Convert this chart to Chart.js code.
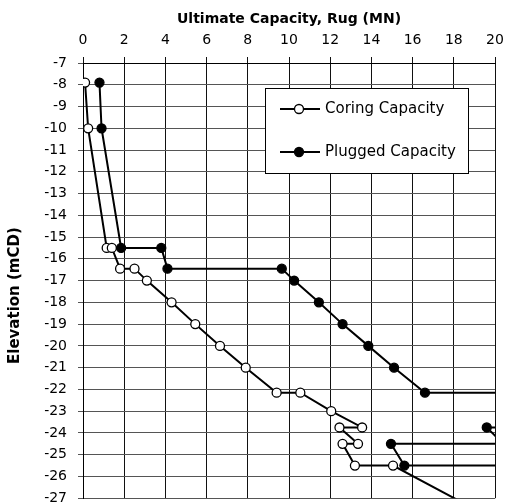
<!DOCTYPE html>
<html>
<head>
<meta charset="utf-8">
<script src="https://cdn.jsdelivr.net/npm/chart.js@4/dist/chart.umd.min.js"></script>
<style>
  html, body { margin: 0; padding: 0; background: #fff; overflow: hidden; }
  #chart { display: block; }
</style>
</head>
<body>
<canvas id="chart" width="506" height="504"></canvas>
<script>
// Coring capacity (open circles): capacity in MN, elevation in mCD
var coringCapacity = [0.1, 0.25, 1.15, 1.4, 1.8, 2.5, 3.1, 4.3, 5.45, 6.65, 7.9, 9.4, 10.55,
                      12.05, 13.55, 12.45, 13.35, 12.6, 13.2, 15.05, 20.0];
var coringElevation = [-7.9, -10, -15.5, -15.5, -16.45, -16.45, -17, -18, -19, -20, -21, -22.15, -22.15,
                       -23, -23.75, -23.75, -24.5, -24.5, -25.5, -25.5, -28];

// Plugged capacity (filled circles); some points run off the right edge
var pluggedCapacity = [0.8, 0.9, 1.85, 3.8, 4.1, 9.65, 10.25, 11.45, 12.6, 13.85, 15.1, 16.6,
                       22, 21, 19.6, 20.4, 14.95, 15.6, 22];
var pluggedElevation = [-7.9, -10, -15.5, -15.5, -16.45, -16.45, -17, -18, -19, -20, -21, -22.15,
                        -22.15, -23.75, -23.75, -24.5, -24.5, -25.5, -25.5];

var seriesLabels = ['Coring Capacity', 'Plugged Capacity'];
var xTitle = 'Ultimate Capacity, Rug (MN)';
var yTitle = 'Elevation (mCD)';

var fontFamily = '"DejaVu Sans", Verdana, sans-serif';

function toPoints(xs, ys) {
    var pts = [];
    for (var i = 0; i < xs.length; i++) {
        pts.push({x: xs[i], y: ys[i]});
    }
    return pts;
}

// Boxed legend inside the plot area, top right, plus the y axis title
var boxLegend = {
    id: 'boxLegend',
    afterDraw: function(chart) {
        var c = chart.ctx;
        var area = chart.chartArea;
        var left = area.left + 182, top = area.top + 25, w = 203, h = 85;
        c.save();
        c.fillStyle = '#fff';
        c.fillRect(left, top, w, h);
        c.strokeStyle = '#000';
        c.lineWidth = 1;
        c.strokeRect(left + 0.5, top + 0.5, w, h);
        var rows = [top + 21, top + 64];
        chart.data.datasets.forEach(function(ds, i) {
            var y = rows[i];
            c.strokeStyle = '#000';
            c.lineWidth = 2;
            c.beginPath();
            c.moveTo(left + 15, y);
            c.lineTo(left + 55, y);
            c.stroke();
            c.beginPath();
            c.arc(left + 34, y, 4.5, 0, Math.PI * 2);
            c.fillStyle = ds.pointBackgroundColor;
            c.fill();
            c.lineWidth = 1.3;
            c.stroke();
            c.fillStyle = '#000';
            c.font = '15px ' + fontFamily;
            c.textBaseline = 'middle';
            c.textAlign = 'left';
            c.fillText(ds.label, left + 60, y);
        });

        // y title sits a little below the middle of the axis in the original
        c.translate(15, area.top + (area.bottom - area.top) / 2 + 15);
        c.rotate(-Math.PI / 2);
        c.font = 'bold 15px ' + fontFamily;
        c.textAlign = 'center';
        c.textBaseline = 'middle';
        c.fillStyle = '#000';
        c.fillText(yTitle, 0, 0);
        c.restore();
    }
};

var ctx = document.getElementById('chart').getContext('2d');
var capacityChart = new Chart(ctx, {
    type: 'scatter',
    data: {
        datasets: [
            {
                label: seriesLabels[0],
                data: toPoints(coringCapacity, coringElevation),
                showLine: true,
                borderColor: '#000',
                borderWidth: 2,
                pointRadius: 4.5,
                pointBackgroundColor: '#fff',
                pointBorderColor: '#000',
                pointBorderWidth: 1.3,
                order: 1
            },
            {
                label: seriesLabels[1],
                data: toPoints(pluggedCapacity, pluggedElevation),
                showLine: true,
                borderColor: '#000',
                borderWidth: 2,
                pointRadius: 4.5,
                pointBackgroundColor: '#000',
                pointBorderColor: '#000',
                pointBorderWidth: 1.3,
                order: 0
            }
        ]
    },
    options: {
        responsive: false,
        animation: false,
        layout: { padding: { left: 0, right: 11, top: 0, bottom: 1 } },
        plugins: {
            legend: { display: false },
            tooltip: { enabled: false }
        },
        scales: {
            x: {
                type: 'linear',
                position: 'top',
                min: 0,
                max: 20,
                ticks: {
                    stepSize: 2,
                    color: '#000',
                    padding: 8,
                    font: { family: fontFamily, size: 14 }
                },
                grid: { color: '#111', lineWidth: 1, tickLength: 6 },
                border: { color: '#000', width: 1 },
                title: {
                    display: true,
                    text: xTitle,
                    color: '#000',
                    font: { family: fontFamily, size: 14, weight: 'bold' },
                    padding: { top: 11, bottom: 0 }
                },
                afterFit: function(scale) {
                    scale.height = 63;
                    scale.paddingLeft = 0;
                    scale.paddingRight = 0;
                }
            },
            y: {
                type: 'linear',
                min: -27,
                max: -7,
                ticks: {
                    stepSize: 1,
                    color: '#000',
                    padding: 11,
                    font: { family: fontFamily, size: 14 }
                },
                grid: { color: '#555', lineWidth: 1, tickLength: 5 },
                border: { color: '#000', width: 1 },
                afterFit: function(scale) {
                    scale.width = 83;
                    scale.paddingTop = 0;
                    scale.paddingBottom = 0;
                }
            }
        }
    },
    plugins: [boxLegend]
});
</script>
</body>
</html>
